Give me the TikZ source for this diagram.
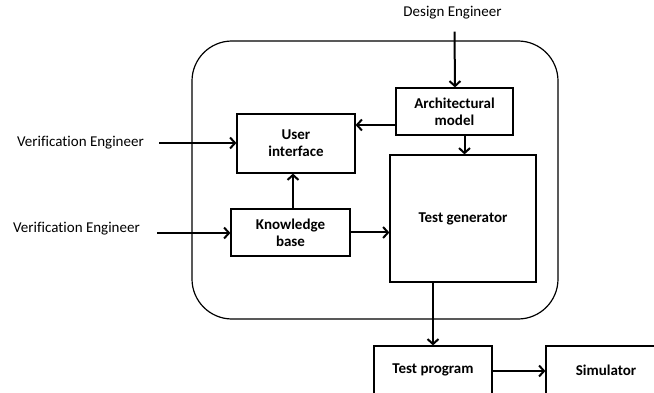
\documentclass[tikz,border=0pt]{standalone}
\usepackage{fontspec}
\setmainfont{Carlito}[Ligatures=NoCommon]
\usetikzlibrary{arrows.meta}
\begin{document}
\begin{tikzpicture}[x=1pt,y=-1pt,
  blockbox/.style={draw, line width=1.2pt, align=center, inner sep=0pt,
    font=\bfseries\fontsize{15}{17}\selectfont},
  actor/.style={inner sep=0pt, font=\fontsize{15}{17}\selectfont},
  flow/.style={line width=2pt, -{Straight Barb[length=5pt,width=11pt,line width=2pt]}}]
\clip (0,0) rectangle (654,393);
\useasboundingbox (0,0) rectangle (654,393);

% outer tool boundary
\draw[line width=1.2pt, rounded corners=40pt] (192,41) rectangle (558,319);

% blocks
\node[blockbox, minimum width=117pt, minimum height=47pt] (arch) at (454.5,111.5) {Architectural\\model};
\node[blockbox, minimum width=118pt, minimum height=59pt] (ui) at (296,143.5) {User\\interface};
\node[blockbox, minimum width=146pt, minimum height=127pt] (tg) at (463,218.5) {Test generator};
\node[blockbox, minimum width=119pt, minimum height=47pt] (kb) at (290.5,232.5) {Knowledge\\base};
\node[blockbox, minimum width=118pt, minimum height=48pt] (tp) at (433,370) {Test program};
\node[blockbox, minimum width=120pt, minimum height=48pt] (sim) at (606,370) {Simulator};

% actors
\node[actor] (de) at (452.5,13) {Design Engineer};
\node[actor] (ve1) at (80.5,143) {Verification Engineer};
\node[actor] (ve2) at (76.5,229) {Verification Engineer};

% connectors
\draw[flow] ([yshift=-12pt]de.south -| arch.north) -- ([xshift=0.5pt]arch.north);
\draw[flow] ([yshift=-13.5pt]arch.west) -- ([yshift=-13.5pt]arch.west -| ui.east);
\draw[flow] ([xshift=10pt]arch.south) -- ([xshift=10pt]arch.south |- tg.north);
\draw[flow, shorten <=15.5pt] (ve1.east) -- (ve1.east -| ui.west);
\draw[flow, shorten <=17.5pt] ([yshift=-4pt]ve2.east) -- ([yshift=-4pt]ve2.east -| kb.west);
\draw[flow] ([xshift=2.5pt]kb.north) -- ([xshift=2.5pt]kb.north |- ui.south);
\draw[flow] (kb.east) -- (kb.east -| tg.west);
\draw[flow] (tg.south -| tp.north) -- (tp.north);
\draw[flow] ([yshift=-1pt]tp.east) -- ([yshift=-1pt]tp.east -| sim.west);
\end{tikzpicture}
\end{document}
